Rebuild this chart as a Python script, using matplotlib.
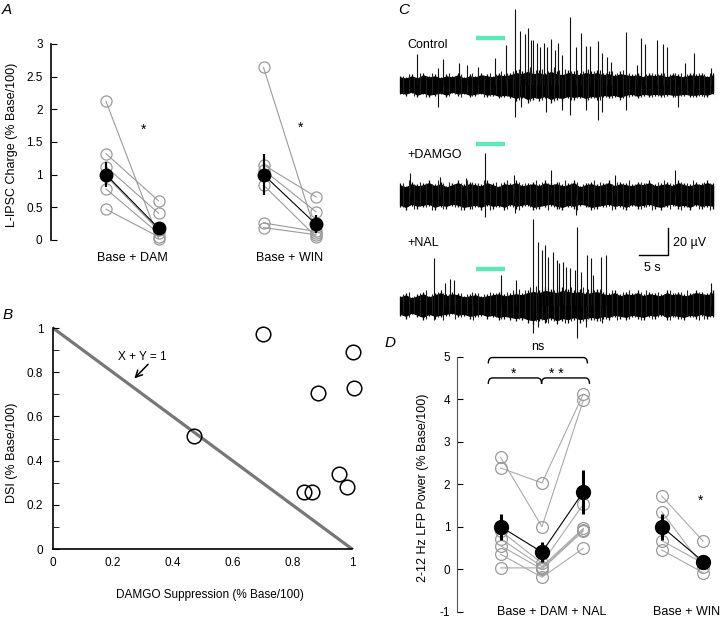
import numpy as np
import matplotlib
matplotlib.use("Agg")
import matplotlib.pyplot as plt
from matplotlib.path import Path
from matplotlib.patches import PathPatch
from matplotlib.ticker import FuncFormatter, MultipleLocator

plt.rcParams["font.family"] = ["Liberation Sans", "DejaVu Sans"]
plt.rcParams["font.size"] = 8.5
plt.rcParams["axes.unicode_minus"] = False

# ---- panel A : L-IPSC charge ----
a_dam_base = [2.12, 1.32, 1.12, 0.98, 0.78, 0.47]
a_dam_drug = [0.02, 0.60, 0.41, 0.15, 0.10, 0.05]
a_win_base = [2.64, 1.15, 1.07, 0.84, 0.26, 0.19]
a_win_drug = [0.10, 0.66, 0.43, 0.05, 0.13, 0.08]
a_dam_mean = [1.00, 0.18]
a_dam_err = [0.19, 0.05]
a_win_mean = [1.00, 0.24]
a_win_err = [0.31, 0.14]
a_groups = ["Base + DAM", "Base + WIN"]

# ---- panel B : DSI vs DAMGO suppression ----
b_x = [0.703, 1.004, 1.007, 0.885, 0.472, 0.839, 0.865, 0.957, 0.984]
b_y = [0.973, 0.890, 0.730, 0.707, 0.511, 0.259, 0.259, 0.339, 0.279]

# ---- panel C : LFP traces (uV, relative to each trace baseline) ----
env_t = list(range(55))
ctl_top = [7, 6, 8, 6, 9, 7, 8, 6, 8, 7, 9, 6, 8, 7, 9, 8, 7, 9, 8, 9,
           11, 10, 12, 10, 11, 9, 12, 10, 9, 11, 10, 9, 11, 10, 11, 9, 10, 8, 10, 9,
           8, 9, 7, 9, 8, 9, 7, 9, 8, 7, 9, 8, 9, 7, 9]
ctl_bot = [-7, -8, -6, -9, -7, -9, -8, -7, -9, -6, -8, -7, -9, -8, -7, -9, -8, -10, -9, -10,
           -12, -10, -13, -11, -12, -10, -13, -11, -12, -10, -11, -10, -12, -10, -11, -9,
           -10, -9, -11, -9, -8, -10, -8, -9, -8, -9, -8, -9, -9, -8, -9, -9, -8, -9, -7]
ctl_up_t = [3.0, 6.6, 7.4, 10.2, 11.6, 13.4, 16.3, 18.2, 19.8, 20.7, 21.5, 22.1, 22.6,
            23.0, 23.7, 24.2, 24.9, 25.3, 26.0, 26.7, 27.3, 28.0, 29.3, 30.3, 31.3,
            32.0, 32.7, 34.2, 34.9, 35.7, 36.4, 39.0, 40.9, 41.5, 42.3, 44.4, 45.3,
            46.1, 49.1, 50.7, 53.6]
ctl_up_a = [22.7, 12.4, 19.0, 16.1, 14.8, 13.6, 19.8, 29.6, 56.1, 40.0, 37.5, 42.5, 33.3,
            33.3, 30.9, 28.4, 30.9, 28.4, 33.8, 25.9, 31.4, 22.2, 50.1, 28.4, 38.3,
            28.9, 28.9, 32.6, 23.5, 21.0, 17.3, 39.5, 14.8, 34.6, 30.1, 33.3, 30.1,
            28.4, 16.1, 23.5, 12.4]
ctl_dn_t = [6.6, 19.9, 20.9, 25.1, 28.0, 29.3, 32.1, 34.2, 34.9, 39.0, 48.0]
ctl_dn_a = [16, 24, 16, 20, 18.5, 22, 18.5, 26, 20, 18.5, 16]

dam_top = [9, 7, 10, 8, 9, 11, 8, 10, 7, 9, 11, 8, 10, 9, 8, 11, 9, 7, 10, 9,
           11, 8, 9, 10, 8, 11, 9, 10, 8, 9, 11, 7, 9, 10, 8, 9, 11, 8, 10, 9,
           8, 10, 9, 11, 8, 9, 10, 8, 11, 9, 8, 10, 9, 11, 9]
dam_bot = [-9, -11, -8, -10, -9, -8, -11, -9, -10, -8, -9, -11, -10, -9, -11, -8,
           -10, -9, -11, -8, -10, -9, -8, -11, -10, -9, -8, -10, -11, -9, -10, -8,
           -9, -11, -10, -9, -8, -10, -9, -11, -8, -10, -9, -8, -10, -11, -9, -8,
           -10, -9, -11, -8, -10, -9, -10]
dam_up_t = [1.7, 6.9, 11.4, 14.6, 19.7, 26.0, 37.1, 47.4]
dam_up_a = [16, 13.6, 12.4, 31, 15, 18.5, 15, 18.5]
dam_dn_t = [14.6, 19.9, 30.3]
dam_dn_a = [16.5, 13.6, 15]

nal_top = [7, 9, 6, 8, 10, 7, 9, 11, 8, 10, 9, 7, 8, 9, 7, 8, 9, 10, 8, 9,
           10, 9, 11, 12, 11, 13, 12, 11, 13, 12, 11, 12, 10, 11, 12, 10, 9, 11,
           8, 10, 9, 11, 8, 10, 9, 8, 11, 9, 10, 8, 9, 11, 10, 9, 11]
nal_bot = [-8, -10, -7, -9, -11, -8, -10, -9, -8, -7, -9, -8, -10, -9, -8, -10,
           -9, -11, -10, -11, -12, -11, -13, -14, -12, -13, -11, -14, -12, -13, -11,
           -13, -12, -11, -12, -10, -11, -9, -10, -11, -9, -10, -11, -9, -10, -8,
           -11, -9, -10, -11, -9, -10, -8, -10, -9]
nal_up_t = [5.8, 7.7, 8.6, 9.3, 17.4, 20.0, 23.0, 23.8, 24.5, 25.0, 25.6, 26.4, 27.0,
            27.5, 28.1, 28.7, 29.4, 30.1, 30.5, 31.3, 32.2, 32.9, 33.3, 34.6, 35.5, 53.7]
nal_up_a = [34.6, 16, 19, 18.5, 22.2, 18.5, 64, 47, 40.8, 44.5, 35.8, 39.5, 33.3,
            30.9, 32.1, 28.4, 27.2, 25.9, 58, 24.7, 37, 35, 22.2, 35.5, 37, 16]
nal_dn_t = [5.8, 12.6, 23.0, 23.8, 25.1, 30.6, 32.0, 34.9]
nal_dn_a = [11, 11, 21, 16, 12.4, 24.7, 16, 13.6]

# ---- panel D : 2-12 Hz LFP power ----
d_base = [2.63, 2.38, 0.90, 0.72, 0.55, 0.35, 0.03]
d_dam = [1.00, 2.03, 0.14, 0.06, 0.00, -0.19, 0.03]
d_nal = [3.97, 4.12, 1.53, 0.96, 0.90, 0.49, 0.93]
d_mean = [1.00, 0.40, 1.82]
d_err = [0.31, 0.23, 0.51]
w_base = [1.72, 1.35, 0.67, 0.45]
w_drug = [0.66, 0.06, 0.14, -0.08]
w_mean = [1.00, 0.18]
w_err = [0.31, 0.15]

W, H = 720, 622


def rect(l, t, r, b):
    return [l / W, 1 - b / H, (r - l) / W, (b - t) / H]


def fmt(v, pos):
    return "%g" % v


GREY = "#9a9a9a"
fig = plt.figure(figsize=(W / 100, H / 100), dpi=100)

# panel A
ax = fig.add_axes(rect(50.9, 40.7, 347.5, 247.8))
for xs, b, d in [((1, 2), a_dam_base, a_dam_drug), ((4, 5), a_win_base, a_win_drug)]:
    for v0, v1 in zip(b, d):
        ax.plot(xs, [v0, v1], color=GREY, lw=0.8, marker="o", ms=8, mfc="none",
                mec=GREY, mew=0.9, clip_on=False)
for xs, m, e in [((1, 2), a_dam_mean, a_dam_err), ((4, 5), a_win_mean, a_win_err)]:
    ax.plot(xs, m, color="black", lw=0.8)
    ax.errorbar(xs, m, yerr=e, fmt="o", color="black", ms=9, elinewidth=1.6,
                capsize=0, clip_on=False, zorder=5)
ax.text(1.71, 1.68, "*", ha="center", va="center", fontsize=10)
ax.text(4.71, 1.71, "*", ha="center", va="center", fontsize=10)
for x, lab in zip([1.5, 4.5], a_groups):
    ax.text(x, -0.27, lab, ha="center", va="center", fontsize=9)
ax.set_xlim(-0.05, 5.6)
ax.set_ylim(-0.12, 3.05)
ax.set_yticks(np.arange(0, 3.01, 0.5))
ax.yaxis.set_major_formatter(FuncFormatter(fmt))
ax.set_xticks([])
for s in ["top", "right", "bottom"]:
    ax.spines[s].set_visible(False)
ax.spines["left"].set_bounds(0, 3)
ax.spines["left"].set_linewidth(1.2)
ax.tick_params(axis="y", direction="in", length=4, pad=6)
ax.patch.set_visible(False)

# panel B
ax = fig.add_axes(rect(53, 321.4, 367, 549))
ax.plot([0, 1], [1, 0], color="#777777", lw=2.3, zorder=1)
ax.plot(b_x, b_y, "o", ms=10.5, mfc="none", mec="black", mew=1.1, clip_on=False)
ax.text(0.297, 0.87, "X + Y = 1", ha="center", va="center")
ax.annotate("", xy=(0.272, 0.772), xytext=(0.318, 0.836),
            arrowprops=dict(arrowstyle="->", lw=1.1, color="black",
                            shrinkA=0, shrinkB=0, mutation_scale=12))
ax.set_xlim(0, 1.05)
ax.set_ylim(0, 1.03)
ax.set_xticks(np.arange(0, 1.01, 0.2))
ax.set_yticks(np.arange(0, 1.01, 0.2))
ax.yaxis.set_minor_locator(MultipleLocator(0.1))
ax.xaxis.set_major_formatter(FuncFormatter(fmt))
ax.yaxis.set_major_formatter(FuncFormatter(fmt))
ax.tick_params(axis="y", which="both", direction="in", length=4, pad=7)
ax.tick_params(axis="x", length=0, pad=6)
for s in ["top", "right"]:
    ax.spines[s].set_visible(False)
ax.spines["left"].set_bounds(0, 1)
ax.spines["bottom"].set_bounds(0, 1)
ax.spines["left"].set_linewidth(1.2)
ax.spines["bottom"].set_linewidth(1.2)
ax.set_xlabel("DAMGO Suppression (% Base/100)", labelpad=14)
ax.patch.set_visible(False)

# panel C
ax = fig.add_axes(rect(394.2, 0.75, 716, 345))
traces = [
    (192.6, ctl_top, ctl_bot, ctl_up_t, ctl_up_a, ctl_dn_t, ctl_dn_a, 34.8, "Control", 222),
    (111.1, dam_top, dam_bot, dam_up_t, dam_up_a, dam_dn_t, dam_dn_a, 37.8, "+DAMGO", 140.7),
    (29.6, nal_top, nal_bot, nal_up_t, nal_up_a, nal_dn_t, nal_dn_a, 26.7, "+NAL", 75.6),
]
for base, top, bot, ut, ua, dt, da, bar_y, lab, lab_y in traces:
    # noise hairs (on the second and the half second), dense core, large deflections
    ax.vlines(env_t, [base + v for v in bot], [base + v for v in top],
              color="black", lw=0.9)
    ax.vlines([t + 0.5 for t in env_t], [base - v for v in top], [base - v for v in bot],
              color="#222222", lw=0.8)
    ax.fill_between(env_t, [base + v * 0.8 for v in top], [base + v * 0.8 for v in bot],
                    color="black", lw=0.8)
    ax.vlines(ut, base, [base + v for v in ua], color="#111111", lw=0.8)
    ax.vlines(dt, base, [base - v for v in da], color="#111111", lw=0.8)
    ax.plot([13.1, 18.1], [base + bar_y] * 2, color="#5ee8b7", lw=3.2,
            solid_capstyle="butt")
    ax.text(1.2, lab_y, lab, ha="left", va="center", fontsize=9)
ax.plot([41.2, 46.2, 46.2], [66.7, 66.7, 86.7], color="black", lw=1)
ax.text(47.1, 75.6, "20 µV", ha="left", va="center", fontsize=9)
ax.text(43.6, 57, "5 s", ha="center", va="center", fontsize=9)
ax.set_xlim(-1, 54.5)
ax.set_ylim(0, 255)
ax.axis("off")

# panel D
ax = fig.add_axes(rect(457.3, 343.95, 715.5, 613.8))
for v in zip(d_base, d_dam, d_nal):
    ax.plot([1, 2, 3], v, color="#aaaaaa", lw=0.8, marker="o", ms=8.5, mfc="none",
            mec=GREY, mew=0.9, clip_on=False)
for v0, v1 in zip(w_base, w_drug):
    ax.plot([4.9, 5.9], [v0, v1], color="#aaaaaa", lw=0.8, marker="o", ms=8.5,
            mfc="none", mec=GREY, mew=0.9, clip_on=False)
ax.plot([1, 2, 3], d_mean, color="black", lw=0.8)
ax.errorbar([1, 2, 3], d_mean, yerr=d_err, fmt="o", color="black", ms=10,
            elinewidth=2.2, capsize=0, zorder=5)
ax.plot([4.9, 5.9], w_mean, color="black", lw=0.8)
ax.errorbar([4.9, 5.9], w_mean, yerr=w_err, fmt="o", color="black", ms=10,
            elinewidth=2.2, capsize=0, zorder=5)


def brace(x0, x1, y, h=0.14, d=0.1):
    verts = [(x0, y - h), (x0, y), (x0 + d, y), (x1 - d, y), (x1, y), (x1, y - h)]
    codes = [Path.MOVETO, Path.CURVE3, Path.CURVE3, Path.LINETO, Path.CURVE3, Path.CURVE3]
    ax.add_patch(PathPatch(Path(verts, codes), fc="none", ec="black", lw=1))


brace(0.7, 3.1, 4.98)
brace(0.7, 1.99, 4.5)
brace(1.99, 3.15, 4.5)
ax.text(1.91, 5.22, "ns", ha="center", va="center", fontsize=9)
ax.text(1.32, 4.6, "*", ha="center", va="center", fontsize=10)
ax.text(2.35, 4.6, "* *", ha="center", va="center", fontsize=10)
ax.text(5.83, 1.62, "*", ha="center", va="center", fontsize=10)
ax.text(2.24, -1, "Base + DAM + NAL", ha="center", va="center", fontsize=9)
ax.text(5.5, -1, "Base + WIN", ha="center", va="center", fontsize=9)
ax.set_xlim(-0.05, 6.2)
ax.set_ylim(-1.05, 5.3)
ax.set_yticks(range(-1, 6))
ax.set_xticks([])
for s in ["top", "right", "bottom"]:
    ax.spines[s].set_visible(False)
ax.spines["left"].set_bounds(-1, 5)
ax.spines["left"].set_color("#555555")
ax.tick_params(axis="y", direction="in", length=4, pad=5)
ax.patch.set_visible(False)

# axis titles and panel letters
fig.text(12 / W, 1 - 145 / H, "L-IPSC Charge (% Base/100)", rotation=90,
         ha="center", va="center", fontsize=9)
fig.text(12 / W, 1 - 453 / H, "DSI (% Base/100)", rotation=90, ha="center",
         va="center", fontsize=9)
fig.text(423 / W, 1 - 488 / H, "2-12 Hz LFP Power (% Base/100)", rotation=90,
         ha="center", va="center", fontsize=9)
for x, y, s in [(2, 10, "A"), (3, 315, "B"), (398, 10, "C"), (385, 343, "D")]:
    fig.text(x / W, 1 - y / H, s, ha="left", va="center", fontsize=11, style="italic")

fig.savefig("out.png", dpi=100)
